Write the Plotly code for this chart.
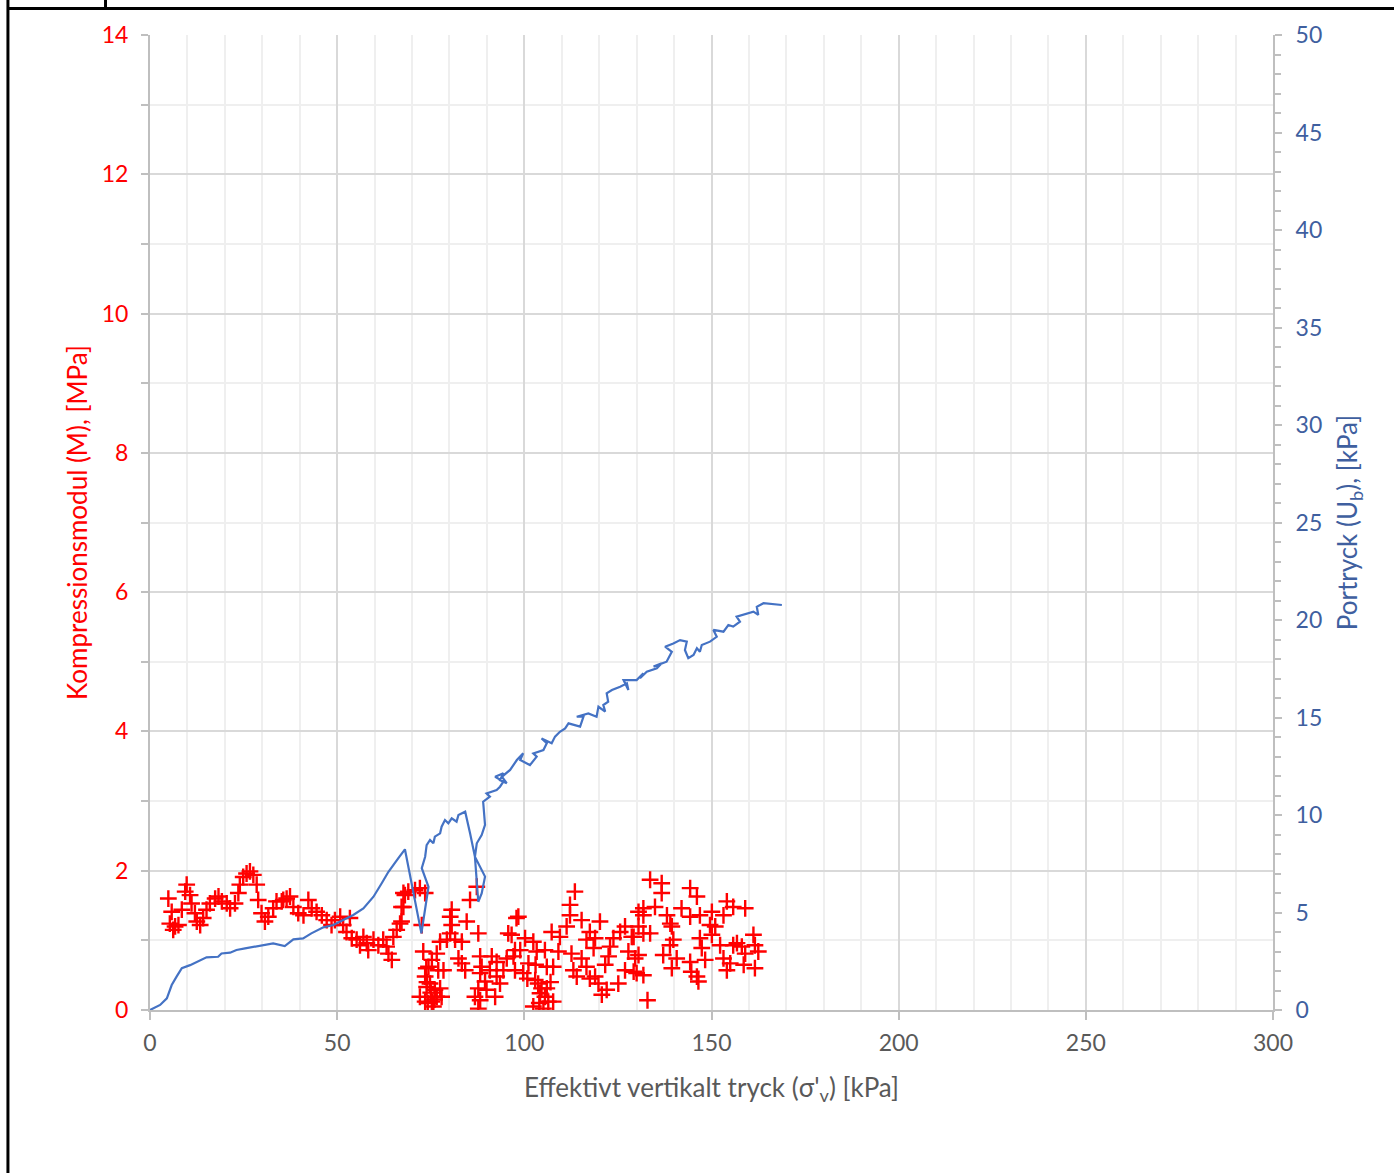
import plotly.graph_objects as go

# --- Data ---
red_sigma = [4.9, 5.8, 5.3, 6.7, 6.2, 7.6, 8.5, 9.4, 9.8, 10.7, 11.1, 12.0, 12.5, 13.4, 14.2, 15.1, 16.0, 17.4,
             18.3, 19.2, 20.5, 21.4, 22.7, 23.6, 24.0, 24.9, 25.8, 26.7, 27.6, 28.5, 28.9, 29.8, 30.7, 31.6, 32.9,
             33.8, 35.2, 36.5, 35.6, 37.4, 38.3, 39.6, 41.0, 42.3, 43.2, 44.5, 45.9, 47.2, 48.5, 49.4, 50.8, 51.6,
             52.5, 53.4, 53.9, 55.2, 56.1, 57.0, 57.9, 58.3, 59.7, 61.0, 62.3, 63.2, 63.7, 64.6, 65.0, 65.9, 66.8,
             67.2, 67.7, 69.0, 68.1, 67.7, 67.2, 72.1, 73.5, 72.6, 73.0, 74.4, 75.3, 73.5, 73.9, 74.8, 72.1, 73.5,
             75.3, 76.6, 77.9, 76.1, 77.5, 75.7, 77.0, 78.4, 76.6, 77.5, 79.3, 80.2, 80.6, 80.2, 80.6, 81.5, 83.3,
             82.4, 83.3, 84.2, 84.6, 87.7, 85.5, 87.3, 88.2, 88.6, 88.2, 87.7, 86.8, 88.2, 87.7, 89.5, 89.9, 90.8,
             91.3, 92.6, 92.6, 93.5, 92.2, 94.4, 95.3, 95.7, 97.5, 97.9, 98.4, 96.6, 100.2, 97.1, 97.5, 98.9, 99.7,
             101.1, 102.4, 103.3, 102.9, 103.7, 104.6, 104.2, 106.0, 105.5, 106.4, 107.7, 102.4, 105.1, 106.0, 105.5,
             107.7, 107.3, 109.5, 109.1, 111.3, 112.2, 112.2, 113.5, 115.3, 112.6, 113.1, 114.0, 115.3, 116.6, 117.5,
             118.9, 118.5, 120.2, 116.6, 117.5, 118.9, 119.8, 120.7, 122.0, 121.6, 122.5, 122.9, 123.8, 125.6, 126.9,
             128.7, 127.8, 126.9, 125.1, 129.6, 130.0, 130.5, 133.6, 136.7, 136.7, 131.8, 134.9, 131.8, 138.1, 139.0,
             139.4, 142.0, 144.3, 146.1, 144.3, 146.9, 150.1, 149.6, 151.0, 150.1, 153.2, 154.1, 155.8, 159.0, 161.2,
             130.5, 131.8, 133.6, 129.2, 139.8, 138.9, 146.9, 147.4, 152.3, 155.8, 156.8, 158.1, 159.0, 161.6, 162.5,
             130.5, 137.1, 140.7, 144.3, 148.3, 153.2, 155.0, 154.1, 158.6, 161.6, 139.4, 144.6, 146.1, 146.5, 129.2,
             131.8, 132.9, 70.8, 74.0, 75.0, 74.2, 73.8, 76.0, 100.8, 103.0, 104.0, 107.0]
red_M = [1.60, 1.41, 1.24, 1.20, 1.15, 1.22, 1.44, 1.70, 1.80, 1.65, 1.53, 1.39, 1.27, 1.22, 1.32, 1.44, 1.53, 1.60,
         1.63, 1.56, 1.53, 1.46, 1.53, 1.68, 1.80, 1.91, 1.96, 1.99, 1.94, 1.80, 1.58, 1.39, 1.27, 1.34, 1.46,
         1.56, 1.56, 1.60, 1.58, 1.63, 1.48, 1.39, 1.36, 1.58, 1.46, 1.41, 1.36, 1.29, 1.22, 1.29, 1.34, 1.22,
         1.12, 1.32, 1.03, 1.01, 0.93, 1.05, 0.96, 0.86, 1.01, 0.93, 1.01, 0.91, 0.81, 0.72, 1.05, 1.15, 1.24,
         1.48, 1.68, 1.70, 1.65, 1.48, 1.27, 1.75, 1.68, 1.22, 0.84, 0.62, 0.72, 0.48, 0.33, 0.38, 0.19, 0.12,
         0.12, 0.19, 0.19, 0.29, 0.31, 0.05, 0.57, 0.57, 0.81, 0.98, 1.01, 1.10, 1.22, 1.34, 1.44, 1.01, 0.98,
         0.74, 0.67, 0.57, 1.27, 1.10, 1.58, 1.77, 0.77, 0.62, 0.53, 0.31, 0.19, 0.14, 0.02, 0.41, 0.29, 0.57,
         0.77, 0.69, 0.48, 0.38, 0.19, 0.57, 0.74, 1.10, 0.86, 1.32, 1.34, 1.08, 1.03, 0.77, 0.57, 0.86, 0.53,
         0.67, 0.98, 0.84, 0.43, 0.38, 0.31, 0.24, 0.31, 0.19, 0.12, 0.12, 0.05, 0.02, 0.62, 0.86,
         0.62, 1.12, 1.05, 0.84, 1.20, 1.36, 1.51, 1.70, 1.29, 0.81, 0.57, 0.48, 0.74, 1.01, 1.12,
         1.03, 0.89, 1.27, 0.62, 0.45, 0.48, 0.38, 0.22, 0.29, 0.65, 0.77, 0.91, 1.03, 1.12, 1.20,
         1.05, 0.84, 0.57, 0.38, 0.74, 0.53, 1.41, 1.87, 1.82, 1.68, 1.46, 1.48, 1.36, 1.36, 1.24,
         1.20, 1.46, 1.75, 1.63, 1.34, 1.36, 1.41, 1.22, 1.20, 1.08, 1.36, 1.56, 1.48, 1.46, 1.08,
         1.20, 1.10, 1.10, 1.05, 1.01, 0.93, 1.03, 0.89, 0.93, 0.93, 0.96, 0.91, 0.81, 0.93, 0.84,
         0.79, 0.79, 0.74, 0.69, 0.72, 0.74, 0.67, 0.57, 0.65, 0.60, 0.60, 0.55, 0.48, 0.41, 0.55,
         0.50, 0.14, 1.72, 0.40, 0.25, 0.10, 0.60, 0.15, 0.45, 0.65, 0.10, 0.40]

blue_sigma = [0.0, 2.7, 4.5, 5.8, 7.1, 8.5, 10.7, 12.5, 15.1, 18.2, 19.1, 21.4, 23.1, 25.4, 28.0, 30.2, 32.9, 36.0,
              38.3, 40.9, 43.1, 46.3, 49.0, 51.6, 54.3, 57.0, 59.7, 61.9, 63.7, 66.3, 68.1, 72.5, 73.9, 74.4, 72.6,
              73.5, 73.9, 74.8, 75.7, 76.1, 77.5, 77.9, 78.8, 79.7, 80.6, 81.9, 82.4, 84.2, 85.5, 86.8, 89.5, 88.6,
              87.7, 87.3, 86.8, 87.3, 88.6, 89.5, 89.2, 89.0, 90.8, 89.9, 92.6, 93.5, 94.4, 92.2, 94.4, 93.5, 95.3,
              94.0, 96.2, 98.0, 99.7, 98.9, 101.5, 103.3, 102.4, 105.1, 106.0, 104.6, 107.3, 108.2, 109.5, 110.9,
              111.8, 114.9, 115.8, 114.0, 117.1, 119.3, 119.8, 121.6, 121.1, 122.4, 122.0, 123.4, 125.6, 127.4,
              127.8, 126.5, 130.0, 131.8, 130.9, 132.7, 135.4, 136.7, 134.5, 138.0, 139.4, 137.6, 139.8, 141.6,
              143.4, 142.9, 143.8, 145.2, 146.1, 146.9, 147.4, 149.6, 151.4, 150.5, 153.2, 154.5, 155.8, 157.6,
              156.7, 159.4, 161.2, 162.5, 162.1, 163.9, 168.8]
blue_U = [0.0, 0.26, 0.6, 1.28, 1.71, 2.14, 2.3, 2.48, 2.7, 2.73, 2.9, 2.94, 3.08, 3.16, 3.25, 3.33, 3.42, 3.28,
          3.62, 3.67, 3.93, 4.24, 4.36, 4.62, 4.87, 5.21, 5.81, 6.5, 7.09, 7.78, 8.24, 3.93, 5.81, 6.32, 7.27,
          7.86, 8.46, 8.72, 8.55, 8.89, 9.06, 9.40, 9.74, 9.57, 9.83, 9.66, 10.0, 10.17, 9.06, 7.86, 6.84, 5.98,
          5.55, 6.67, 7.86, 8.55, 8.97, 9.49, 10.09, 10.68, 10.94, 11.11, 11.28, 11.45, 11.71, 11.96, 12.14, 11.79,
          11.63, 11.96, 12.31, 12.82, 13.16, 12.82, 12.56, 12.99, 13.16, 13.33, 13.68, 13.93, 13.68, 14.02, 14.27,
          14.44, 14.70, 14.53, 15.04, 15.04, 15.21, 15.04, 15.55, 15.30, 15.64, 15.81, 16.24, 16.41, 16.58, 16.75,
          16.41, 16.92, 16.92, 17.27, 17.01, 17.35, 17.52, 17.78, 17.61, 17.86, 18.37, 18.63, 18.80, 18.97,
          18.89, 18.46, 18.04, 18.21, 18.55, 18.37, 18.72, 18.89, 19.14, 19.49, 19.40, 19.74, 19.66, 19.91,
          20.17, 20.34, 20.43, 20.26, 20.68, 20.86, 20.77]

x_title = "Effektivt vertikalt tryck (σ'<sub>v</sub>) [kPa]"
y_title = "Kompressionsmodul (M), [MPa]"
y2_title = "Portryck (U<sub>b</sub>), [kPa]"

RED = "#ff0000"
BLUE_LINE = "#4472c4"
BLUE_TXT = "#3f5f9f"
GREY_TXT = "#595959"
AXIS = "#bfbfbf"
GRID = "#d9d9d9"
MINOR = "#efefef"
FONT = "Lato"
TICK_SIZE = 23
TITLE_SIZE = 26

fig = go.Figure()
fig.add_trace(go.Scatter(x=red_sigma, y=red_M, mode="markers", yaxis="y",
                         marker=dict(symbol="cross-thin", size=12, color=RED,
                                     line=dict(color=RED, width=2.4)),
                         showlegend=False, hoverinfo="skip"))
fig.add_trace(go.Scatter(x=blue_sigma, y=blue_U, mode="lines", yaxis="y2",
                         line=dict(color=BLUE_LINE, width=2.2),
                         showlegend=False, hoverinfo="skip"))

fig.update_layout(
    width=1394, height=1173,
    margin=dict(l=150, r=121, t=35, b=163),
    paper_bgcolor="white", plot_bgcolor="white",
    font=dict(family=FONT, size=TICK_SIZE, color=GREY_TXT),
    xaxis=dict(range=[0, 300], dtick=50, tick0=0, showgrid=True, gridcolor=GRID, gridwidth=2,
               showline=True, linecolor=AXIS, linewidth=2, zeroline=False,
               ticks="outside", ticklen=8, tickwidth=2, tickcolor=AXIS, ticklabelstandoff=3,
               tickfont=dict(family=FONT, size=TICK_SIZE, color=GREY_TXT),
               minor=dict(dtick=10, showgrid=True, gridcolor=MINOR, gridwidth=2, ticks=""),
               title=dict(text=x_title, font=dict(family=FONT, size=TITLE_SIZE, color=GREY_TXT), standoff=24)),
    yaxis=dict(range=[0, 14], dtick=2, tick0=0, showgrid=True, gridcolor=GRID, gridwidth=2,
               showline=True, linecolor=AXIS, linewidth=2, zeroline=False,
               ticks="outside", ticklen=7, tickwidth=2, tickcolor=AXIS, ticklabelstandoff=8,
               tickfont=dict(family=FONT, size=TICK_SIZE, color=RED),
               minor=dict(dtick=1, showgrid=True, gridcolor=MINOR, gridwidth=2,
                          ticks="outside", ticklen=7, tickwidth=2, tickcolor=AXIS),
               title=dict(text=y_title, font=dict(family=FONT, size=TITLE_SIZE, color=RED), standoff=7)),
    yaxis2=dict(range=[0, 50], dtick=5, tick0=0, overlaying="y", side="right", showgrid=False,
                showline=True, linecolor=AXIS, linewidth=2, zeroline=False,
                ticks="outside", ticklen=7, tickwidth=2, tickcolor=AXIS, ticklabelstandoff=9,
                tickfont=dict(family=FONT, size=TICK_SIZE, color=BLUE_TXT),
                minor=dict(dtick=1, ticks="outside", ticklen=6, tickwidth=2, tickcolor=AXIS),
                title=dict(text=y2_title, font=dict(family=FONT, size=TITLE_SIZE, color=BLUE_TXT), standoff=18)),
)

# frame lines (page border of the original document)
frame = dict(color="black", width=3)
fig.add_shape(type="line", xref="paper", yref="paper", x0=-0.1269, x1=1.11, y0=1.0272, y1=1.0272, line=frame)
fig.add_shape(type="line", xref="paper", yref="paper", x0=-0.1265, x1=-0.1265, y0=1.04, y1=-0.17, line=frame)
fig.add_shape(type="line", xref="paper", yref="paper", x0=-0.0396, x1=-0.0396, y0=1.04, y1=1.0272, line=frame)

fig.write_html("out.html", config={"displayModeBar": False},
               post_script="document.body.style.margin='0';document.body.style.overflow='hidden';")
